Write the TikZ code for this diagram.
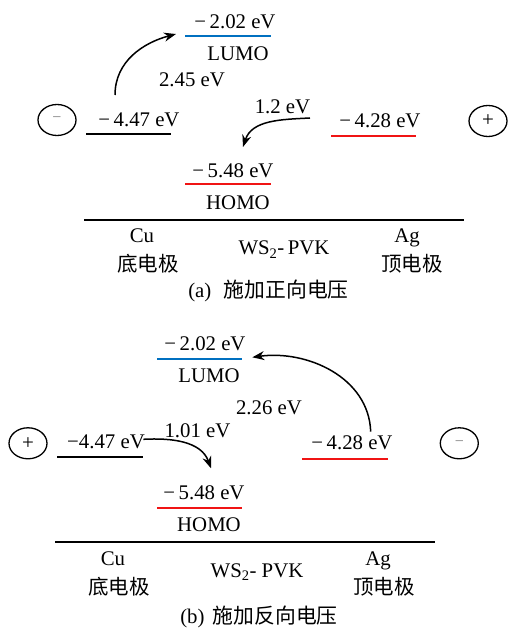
\documentclass[tikz,border=0pt]{standalone}
\usepackage{fontspec}
\setmainfont{Liberation Serif}
\newfontfamily\cjk{Noto Sans CJK SC}
\usetikzlibrary{arrows.meta,shapes.geometric}
\definecolor{lumoblue}{RGB}{0,112,192}
\definecolor{homored}{RGB}{240,20,20}
\begin{document}
\begin{tikzpicture}[x=1pt,y=1pt,
  txt/.style={font=\fontsize{20.8}{24}\selectfont, inner sep=0pt, anchor=base},
  cjktxt/.style={font=\fontsize{20.5}{24}\selectfont\cjk, inner sep=0pt, anchor=center},
  level/.style={line width=2.3pt},
  rulebar/.style={line width=2pt},
  elec/.style={draw, ellipse, line width=1.3pt, minimum width=38pt, minimum height=31pt, inner sep=0pt, font=\fontsize{21}{24}\selectfont},
  jump/.style={line width=1.5pt, -{Stealth[length=12pt,width=9pt]}}]
\useasboundingbox (0,0) rectangle (508,630);
% ---------------- panel (a) ----------------
\node[txt] (aLtxt) at (235,601.7) {−\,2.02 eV};
\draw[level, lumoblue] (185,594) coordinate (aL1) -- (271,594) coordinate (aL2);
\node[txt] (aLumo) at (238,569.3) {LUMO};
\node[txt] (aE1) at (192,543.3) {2.45 eV};
\node[elec] (aMinus) at (57,510) {\textcolor{gray}{\fontsize{16}{16}\selectfont −}};
\node[txt] (aCutxt) at (139,503.3) {−\,4.47 eV};
\draw[level, black] (86,496) coordinate (aC1) -- (171,496) coordinate (aC2);
\node[txt] (aE2) at (282.5,516.7) {1.2 eV};
\node[txt] (aAgtxt) at (380,502.7) {−\,4.28 eV};
\draw[level, homored] (331,494) coordinate (aA1) -- (416,494) coordinate (aA2);
\node[elec] (aPlus) at (488,509) {+};
\node[txt] (aHtxt) at (233,452.7) {−\,5.48 eV};
\draw[level, homored] (185,446) coordinate (aH1) -- (271,446) coordinate (aH2);
\node[txt] (aHomo) at (238,420.7) {HOMO};
\draw[rulebar] (84,410) coordinate (aR1) -- (464,410) coordinate (aR2);
\node[txt] (aCu) at (142,387.3) {Cu};
\node[cjktxt] (aCuz) at (148,366.5) {底电极};
\node[txt] (aWS) at (284,375) {WS\textsubscript{2}-\,PVK};
\node[txt] (aAg) at (407,387.3) {Ag};
\node[cjktxt] (aAgz) at (412,366.5) {顶电极};
\node[txt, anchor=center] (aCap) at (268.5,339) {(a)\hspace{0.6em}{\cjk 施加正向电压}};
\coordinate (aS1) at (115,535);
\coordinate (aT1) at (176,596);
\draw[jump] (aS1) to[out=90,in=195] (aT1);
\coordinate (aS2) at (310,512);
\coordinate (aT2) at (243,483);
\draw[jump] (aS2) to[out=183,in=72] (aT2);
% ---------------- panel (b) ----------------
\node[txt] (bLtxt) at (205,279.3) {−\,2.02 eV};
\draw[level, lumoblue] (157,271) coordinate (bL1) -- (242,271) coordinate (bL2);
\node[txt] (bLumo) at (209,247.3) {LUMO};
\node[txt] (bE1) at (269,215) {2.26 eV};
\node[txt] (bE2) at (197.5,192.7) {1.01 eV};
\node[elec] (bPlus) at (28,186.7) {+};
\node[txt] (bCutxt) at (106,181) {−4.47 eV};
\draw[level, black] (57,172.7) coordinate (bC1) -- (143,172.7) coordinate (bC2);
\node[txt] (bAgtxt) at (352,180.7) {−\,4.28 eV};
\draw[level, homored] (302,171.3) coordinate (bA1) -- (388,171.3) coordinate (bA2);
\node[elec] (bMinus) at (459.3,186.7) {\textcolor{gray}{\fontsize{16}{16}\selectfont −}};
\node[txt] (bHtxt) at (204,130) {−\,5.48 eV};
\draw[level, homored] (157,121.7) coordinate (bH1) -- (242,121.7) coordinate (bH2);
\node[txt] (bHomo) at (209,98.3) {HOMO};
\draw[rulebar] (55,88.3) coordinate (bR1) -- (435,88.3) coordinate (bR2);
\node[txt] (bCu) at (113,64.3) {Cu};
\node[cjktxt] (bCuz) at (119,43.3) {底电极};
\node[txt] (bWS) at (257,52.7) {WS\textsubscript{2}- PVK};
\node[txt] (bAg) at (378,64.3) {Ag};
\node[cjktxt] (bAgz) at (384,43.3) {顶电极};
\node[txt, anchor=center] (bCap) at (259,13.3) {(b)\hspace{0.4em}{\cjk 施加反向电压}};
\coordinate (bS1) at (370.7,198.3);
\coordinate (bT1) at (252.3,272.7);
\draw[jump] (bS1) to[out=92,in=8] (bT1);
\coordinate (bS2) at (143.3,190.7);
\coordinate (bT2) at (211,161.7);
\draw[jump] (bS2) to[out=3,in=110] (bT2);
\end{tikzpicture}
\end{document}
